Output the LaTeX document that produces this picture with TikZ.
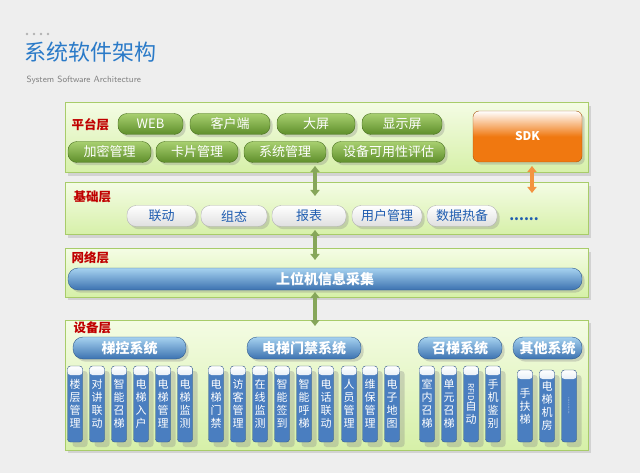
\documentclass[tikz,border=0pt]{standalone}
\usepackage{fontspec}
\setmainfont{Noto Sans CJK SC}
\usetikzlibrary{arrows.meta,shadows}
\definecolor{bgGray}{HTML}{EEEEEE}
\definecolor{panelTop}{HTML}{F4FCE4}
\definecolor{panelBot}{HTML}{D6F0A8}
\definecolor{panelLine}{HTML}{A8CC6A}
\definecolor{pillTop}{HTML}{A8D070}
\definecolor{pillBot}{HTML}{5E8E2A}
\definecolor{colBlue}{HTML}{4A7EC0}
\definecolor{barTop}{HTML}{A6D2F0}
\definecolor{barBot}{HTML}{3C72B0}
\definecolor{textBlue}{HTML}{1E5CB0}
\definecolor{titleBlue}{HTML}{2A7AC8}
\definecolor{labRed}{HTML}{C00000}
\definecolor{sdkOrange}{HTML}{F07810}
\tikzset{
  panel/.style={draw=panelLine, line width=1pt, top color=panelTop, bottom color=panelBot, drop shadow={opacity=0.25}},
  layer/.style={text=labRed, font=\fontsize{12.5}{14}\selectfont\bfseries, anchor=west},
  gpill/.style={rounded corners=9pt, draw=pillBot!80!black, top color=pillTop, bottom color=pillBot, text=white,
    font=\fontsize{13}{14}\selectfont, minimum height=21pt, inner sep=0pt, drop shadow={opacity=0.3}},
  wpill/.style={rounded corners=9pt, draw=gray!60, top color=white, bottom color=gray!25, text=textBlue,
    font=\fontsize{13}{14}\selectfont, minimum height=21pt, inner sep=0pt, drop shadow={opacity=0.3}},
  bbar/.style={rounded corners=10pt, draw=barBot!80!black, top color=barTop, bottom color=barBot, text=white,
    font=\fontsize{14}{15}\selectfont\bfseries, minimum height=22pt, inner sep=0pt, drop shadow={opacity=0.3}},
  vcol/.style={rounded corners=3pt, fill=colBlue, draw=colBlue!70!black, text=white, align=center,
    font=\fontsize{11}{13}\selectfont, minimum width=15pt, minimum height=76pt, inner sep=0pt,
    drop shadow={opacity=0.3, shadow xshift=5pt, shadow yshift=-5pt},
    path picture={\shade[top color=white, bottom color=colBlue] (path picture bounding box.north west) rectangle ([yshift=-9pt]path picture bounding box.north east);}},
  dblarrow/.style={line width=3.5pt, draw=pillTop!80!black, {Triangle[length=6pt,width=9pt]}-{Triangle[length=6pt,width=9pt]}},
}
\begin{document}
\begin{tikzpicture}[x=1pt,y=-1pt]
  \fill[bgGray] (0,0) rectangle (640,473);
  \useasboundingbox (0,0) rectangle (640,473);
  % heading
  \foreach \i in {0,...,3} \fill[gray!60] (27+\i*7,34) circle (1.3pt);
  \node[anchor=west, text=titleBlue, font=\fontsize{22}{24}\selectfont] (title) at (21,52) {系统软件架构};
  \node[anchor=west, text=gray, font=\fontsize{9}{10}\selectfont\sffamily] (subtitle) at (23,80) {System Software Architecture};
  % layers
  \draw[panel] (65,103) rectangle (588,173);
  \draw[panel] (65,183) rectangle (588,235);
  \draw[panel] (65,249) rectangle (588,297);
  \draw[panel] (65,320) rectangle (588,450);
  % platform layer
  \node[layer] (platform) at (68,125) {平台层};
  \node[gpill, minimum width=65pt] (web) at (150.5,124) {WEB};
  \node[gpill, minimum width=80pt] (client) at (230,124) {客户端};
  \node[gpill, minimum width=78pt] (bigscreen) at (316,124) {大屏};
  \node[gpill, minimum width=80pt] (display) at (402,124) {显示屏};
  \node[gpill, minimum width=83pt] (crypto) at (109.5,152) {加密管理};
  \node[gpill, minimum width=82pt] (card) at (197,152) {卡片管理};
  \node[gpill, minimum width=82pt] (sysmgr) at (285,152) {系统管理};
  \node[gpill, minimum width=113pt] (avail) at (388.5,152) {设备可用性评估};
  \node[rounded corners=6pt, draw=sdkOrange!70!black, top color=white, bottom color=sdkOrange, middle color=sdkOrange,
    text=white, font=\fontsize{12}{14}\selectfont\bfseries, minimum width=109pt, minimum height=51pt,
    drop shadow={opacity=0.3}] (sdk) at (527.5,136.5) {SDK};
  % base layer
  \node[layer] (base) at (70,197) {基础层};
  \node[wpill, minimum width=69pt] (link) at (161.5,216) {联动};
  \node[wpill, minimum width=66pt] (config) at (234,216) {组态};
  \node[wpill, minimum width=74pt] (report) at (309,216) {报表};
  \node[wpill, minimum width=70pt] (user) at (387,216) {用户管理};
  \node[wpill, minimum width=70pt] (backup) at (462,216) {数据热备};
  \node[text=textBlue, font=\fontsize{14}{14}\selectfont\bfseries] (more) at (524,219) {......};
  % network layer
  \node[layer] (network) at (68,258) {网络层};
  \node[bbar, minimum width=514pt] (collect) at (325,279) {上位机信息采集};
  % device layer
  \node[layer] (device) at (70,328) {设备层};
  \node[bbar, minimum width=113pt] (lift) at (129.5,348) {梯控系统};
  \node[bbar, minimum width=114pt] (access) at (304,348) {电梯门禁系统};
  \node[bbar, minimum width=84pt] (call) at (460,348) {召梯系统};
  \node[bbar, minimum width=69pt] (other) at (547.5,348) {其他系统};
  \foreach \x/\t in {75/楼\\层\\管\\理, 97/对\\讲\\联\\动, 119/智\\能\\召\\梯, 141/电\\梯\\入\\户, 163/电\\梯\\管\\理, 185/电\\梯\\监\\测,
    216/电\\梯\\门\\禁, 238/访\\客\\管\\理, 260/在\\线\\监\\测, 282/智\\能\\签\\到, 304/智\\能\\呼\\梯, 326/电\\话\\联\\动,
    349/人\\员\\管\\理, 370/维\\保\\管\\理, 392/电\\子\\地\\图,
    427/室\\内\\召\\梯, 449/单\\元\\召\\梯, 471/\rotatebox{-90}{\fontsize{8}{8}\selectfont RFID}\\自\\动, 493/手\\机\\鉴\\别}
    \node[vcol] at (\x,404) {\t};
  \foreach \x/\t in {525/手\\扶\\梯, 547/电\\梯\\机\\房, 569/\rotatebox{-90}{\fontsize{6}{6}\selectfont ..........}}
    \node[vcol, minimum height=72pt] at (\x,406) {\t};
  % connectors
  \coordinate (pa) at (315,166);
  \coordinate (pb) at (315,196);
  \coordinate (ba) at (315,230);
  \coordinate (bb) at (315,260);
  \coordinate (na) at (315,292);
  \coordinate (nb) at (315,326);
  \coordinate (sa) at (532,166);
  \coordinate (sb) at (532,193);
  \draw[dblarrow] (pa) -- (pb);
  \draw[dblarrow] (ba) -- (bb);
  \draw[dblarrow] (na) -- (nb);
  \draw[dblarrow, draw=sdkOrange!80] (sa) -- (sb);
\end{tikzpicture}
\end{document}
